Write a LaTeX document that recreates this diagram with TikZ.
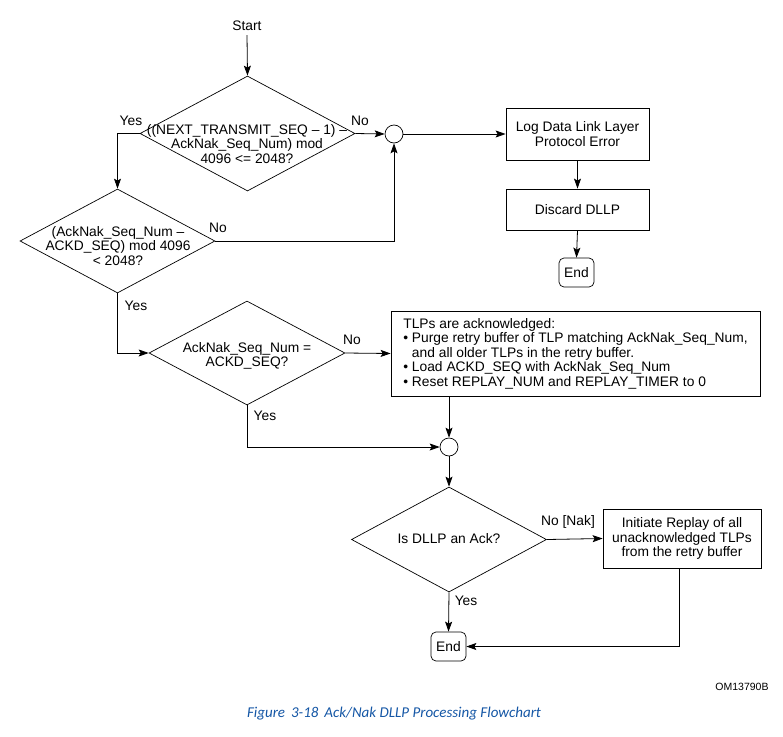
\documentclass[tikz,border=0pt]{standalone}
\usepackage{fontspec}
\setmainfont{Liberation Sans}
\newfontfamily\capfont{Carlito}
\usetikzlibrary{shapes.geometric,arrows.meta}
\definecolor{capblue}{RGB}{20,86,165}
\begin{document}
\begin{tikzpicture}[x=1pt,y=-1pt,
  font=\fontsize{13.8}{14.5}\selectfont,
  dia/.style={draw, shape=diamond, inner sep=0pt, line width=0.7pt},
  boxn/.style={draw, rectangle, line width=0.8pt, inner sep=0pt, align=center},
  junc/.style={draw, circle, minimum size=18pt, inner sep=0pt, line width=0.7pt},
  endn/.style={draw, rectangle, rounded corners=5pt, minimum width=35pt, minimum height=29pt, inner sep=0pt, line width=0.7pt},
  lbl/.style={inner sep=0pt, align=center},
  arr/.style={-{Stealth[length=10pt,width=7pt,inset=2pt]}, line width=0.8pt},
  conn/.style={line width=0.8pt}
]
\useasboundingbox (0,0) rectangle (783,736);

% start
\node[lbl, inner sep=4pt] (start) at (247,26) {Start};

% diamonds
\node[dia, minimum width=215pt, minimum height=115pt] (d1) at (247.5,133.5) {};
\node[lbl] (t1) at (247,144) {((NEXT\_TRANSMIT\_SEQ – 1) –\\AckNak\_Seq\_Num) mod\\4096 <= 2048?};

\node[dia, minimum width=195pt, minimum height=104pt] (d2) at (117.5,241) {};
\node[lbl] (t2) at (118,246) {(AckNak\_Seq\_Num –\\ACKD\_SEQ) mod 4096\\< 2048?};

\node[dia, minimum width=196pt, minimum height=104pt] (d3) at (247,353) {};
\node[lbl] (t3) at (247,356) {AckNak\_Seq\_Num =\\ACKD\_SEQ?};

\node[dia, minimum width=195pt, minimum height=105pt] (d4) at (449,539.5) {};
\node[lbl] (t4) at (449,539) {Is DLLP an Ack?};

% junctions
\node[junc] (c1) at (394,134) {};
\node[junc] (c2) at (449,447) {};

% boxes
\node[boxn, minimum width=143pt, minimum height=52pt] (log) at (577.5,134) {Log Data Link Layer\\Protocol Error};
\node[boxn, minimum width=143pt, minimum height=41pt] (disc) at (577.5,209.5) {Discard DLLP};
\node[endn] (end1) at (576.5,272.5) {End};

\node[boxn, minimum width=369pt, minimum height=85pt, align=left] (tlp) at (575.5,353.5)
  {TLPs are acknowledged:\\
   • Purge retry buffer of TLP matching AckNak\_Seq\_Num,\\
   \phantom{• }and all older TLPs in the retry buffer.\\
   • Load ACKD\_SEQ with AckNak\_Seq\_Num\\
   • Reset REPLAY\_NUM and REPLAY\_TIMER to 0};

\node[boxn, minimum width=158pt, minimum height=59pt] (replay) at (682,538.5)
  {Initiate Replay of all\\unacknowledged TLPs\\from the retry buffer};
\node[endn] (end2) at (448.5,646.5) {End};

% labels
\node[lbl] (y1) at (131,121) {Yes};
\node[lbl] (n1) at (360,121) {No};
\node[lbl] (n2) at (218,228) {No};
\node[lbl] (y2) at (136,306) {Yes};
\node[lbl] (n3) at (352,340) {No};
\node[lbl] (y3) at (265,416) {Yes};
\node[lbl] (n4) at (568,522) {No [Nak]};
\node[lbl] (y4) at (466,601) {Yes};

\node[lbl, font=\fontsize{10.5}{12}\selectfont] (om) at (742,687) {OM13790B};
\node[lbl, font=\capfont\itshape\fontsize{15}{17}\selectfont, text=capblue] (cap) at (394,714)
  {Figure\hspace{0.4em}3-18\hspace{0.4em}Ack/Nak DLLP Processing Flowchart};

% connectors
\draw[arr] (start.south) -- (d1.north);
\draw[arr] (d1.west) -| (d2.north);
\draw[arr] (d1.east) -- (c1.west);
\draw[arr] (d2.east) -| (c1.south);
\draw[arr] (c1.east) -- (log.west);
\draw[arr] (log.south) -- (disc.north);
\draw[arr] (disc.south) -- (end1.north);
\draw[arr] (d2.south) |- (d3.west);
\draw[arr] (d3.east) -- (tlp.west);
\draw[arr] (d3.south) |- (c2.west);
\draw[arr] (c2.north |- tlp.south) -- (c2.north);
\draw[arr] (c2.south) -- (d4.north);
\draw[arr] (d4.east) -- (replay.west);
\draw[arr] (d4.south) -- (end2.north);
\draw[arr] ([xshift=-3pt]replay.south) |- (end2.east);
\end{tikzpicture}
\end{document}
